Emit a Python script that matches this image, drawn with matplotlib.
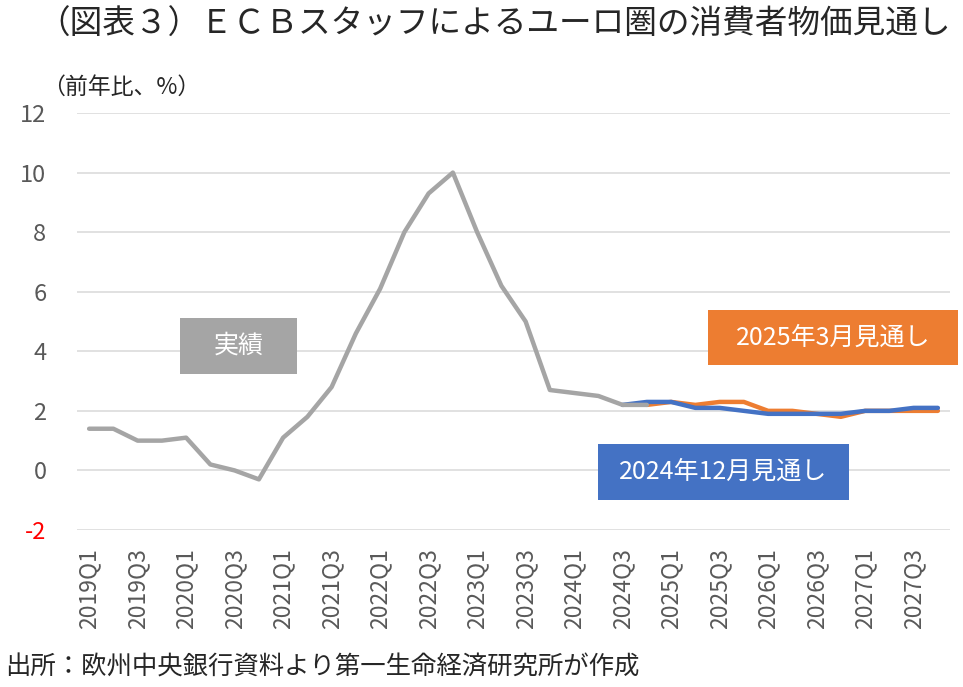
import matplotlib
matplotlib.use('Agg')
import matplotlib.pyplot as plt
from matplotlib.patches import Rectangle

plt.rcParams['font.family'] = ['Noto Sans CJK JP', 'DejaVu Sans']

# quarters 2019Q1 .. 2027Q4
quarters = [f"{y}Q{q}" for y in range(2019, 2028) for q in range(1, 5)]

# actual HICP (2019Q1 - 2024Q4)
actual = [1.4, 1.4, 1.0, 1.0, 1.1, 0.2, 0.0, -0.3,
          1.1, 1.8, 2.8, 4.6, 6.1, 8.0, 9.3, 10.0,
          8.0, 6.2, 5.0, 2.7, 2.6, 2.5, 2.2, 2.2]

# ECB staff projection, Dec 2024 (from 2024Q3)
proj_dec24 = [2.2, 2.3, 2.3, 2.1, 2.1, 2.0, 1.9, 1.9,
              1.9, 1.9, 2.0, 2.0, 2.1, 2.1]

# ECB staff projection, Mar 2025 (from 2024Q4)
proj_mar25 = [2.2, 2.3, 2.2, 2.3, 2.3, 2.0, 2.0, 1.9,
              1.8, 2.0, 2.0, 2.0, 2.0]

yticks = [-2, 0, 2, 4, 6, 8, 10, 12]

GRAY = '#A5A5A5'
ORANGE = '#ED7D31'
BLUE = '#4472C4'
W, H = 963, 687

fig = plt.figure(figsize=(W / 100, H / 100), dpi=100)
ax = fig.add_axes([77 / W, 1 - 530 / H, 873 / W, 417 / H])

x_act = list(range(len(actual)))
x_dec = list(range(len(quarters) - len(proj_dec24), len(quarters)))
x_mar = list(range(len(quarters) - len(proj_mar25), len(quarters)))

ax.plot(x_mar, proj_mar25, color=ORANGE, lw=3.2, solid_capstyle='round', zorder=3)
ax.plot(x_dec, proj_dec24, color=BLUE, lw=3.2, solid_capstyle='round', zorder=4)
ax.plot(x_act, actual, color=GRAY, lw=3.2, solid_capstyle='round', zorder=5)

ax.set_xlim(-0.5, len(quarters) - 0.5)
ax.set_ylim(-2, 12)
ax.set_yticks(yticks)
ax.set_yticklabels([str(v) for v in yticks])
ax.set_xticks(range(0, len(quarters), 2))
ax.set_xticklabels(quarters[::2], rotation=90)

ax.grid(axis='y', color='#D9D9D9', lw=1.1)
ax.set_axisbelow(True)
for s in ax.spines.values():
    s.set_visible(False)
ax.tick_params(axis='both', length=0, colors='#595959')
ax.tick_params(axis='y', pad=22, labelsize=17)
ax.tick_params(axis='x', pad=13, labelsize=16.5)
for lab in ax.get_yticklabels():
    if lab.get_text() == '-2':
        lab.set_color('red')


def label_box(x0, y0, x1, y1, color, text):
    fig.add_artist(Rectangle((x0 / W, 1 - y1 / H), (x1 - x0) / W, (y1 - y0) / H,
                             transform=fig.transFigure, facecolor=color,
                             edgecolor='none', zorder=6))
    fig.text((x0 + x1) / 2 / W, 1 - (y0 + y1) / 2 / H, text, color='white',
             fontsize=18, ha='center', va='center', zorder=7)


label_box(180, 318, 297, 374, GRAY, '実績')
label_box(708, 310, 958, 365, ORANGE, '2025年3月見通し')
label_box(598, 444, 849, 500, BLUE, '2024年12月見通し')

fig.text(494 / W, 1 - 25 / H, '（図表３）ＥＣＢスタッフによるユーロ圏の消費者物価見通し',
         fontsize=23.5, ha='center', va='center', color='#262626')
fig.text(42 / W, 1 - 87 / H, '（前年比、%）', fontsize=16.5, ha='left', va='center',
         color='#262626')
fig.text(5 / W, 1 - 668 / H, '出所：欧州中央銀行資料より第一生命経済研究所が作成',
         fontsize=18.3, ha='left', va='center', color='#262626')

fig.savefig('out.png', dpi=100, facecolor='white')
